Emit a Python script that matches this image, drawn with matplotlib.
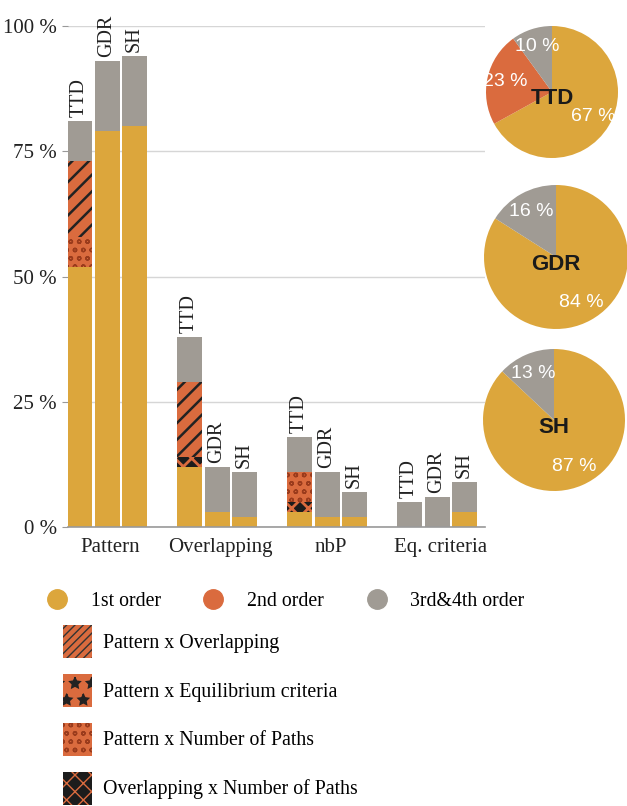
import numpy as np
import matplotlib
matplotlib.use("Agg")
import matplotlib.pyplot as plt
from matplotlib.patches import Patch
from matplotlib.lines import Line2D

plt.rcParams["font.family"] = ["Liberation Serif", "DejaVu Serif"]

# factor groups on the x axis and the three sensitivity methods
groups = ["Pattern", "Overlapping", "nbP", "Eq. criteria"]
methods = ["TTD", "GDR", "SH"]

# first-order share per factor (%)
first_order = {
    "TTD": [52, 12, 3, 0],
    "GDR": [79, 3, 2, 0],
    "SH": [80, 2, 2, 3],
}
# second-order interactions (only TTD resolves them), stacked in this order
ov_x_nbp = [0, 2, 2, 0]
pat_x_nbp = [6, 0, 6, 0]
pat_x_ov = [15, 15, 0, 0]
# third & fourth order share per factor (%)
higher_order = {
    "TTD": [8, 9, 7, 5],
    "GDR": [14, 9, 9, 6],
    "SH": [14, 9, 5, 6],
}

# overall split per method: 1st, 2nd, 3rd&4th order (%)
pie_shares = {
    "TTD": [67, 23, 10],
    "GDR": [84, 0, 16],
    "SH": [87, 0, 13],
}

YEL = "#DCA63C"
ORA = "#DA6B3E"
GRY = "#A09B94"
SANS = ["Liberation Sans", "DejaVu Sans"]

fig = plt.figure(figsize=(6.27, 8.06), dpi=100)
ax = fig.add_axes([0.1085, 0.346, 0.665, 0.6216])

offsets = [-0.25, 0.0, 0.25]
width = 0.227
xg = np.arange(len(groups))

for i, m in enumerate(methods):
    x = xg + offsets[i]
    bottom = np.zeros(len(groups))
    ax.bar(x, first_order[m], width, bottom=bottom, color=YEL, linewidth=0)
    bottom += first_order[m]
    if m == "TTD":
        with plt.rc_context({"hatch.linewidth": 2.0}):
            ax.bar(x, ov_x_nbp, width, bottom=bottom, color="#1c1c1c",
                   edgecolor=ORA, hatch="xx", linewidth=0)
        bottom += ov_x_nbp
        with plt.rc_context({"hatch.linewidth": 1.0}):
            ax.bar(x, pat_x_nbp, width, bottom=bottom, color=ORA,
                   edgecolor="#9a3b1c", hatch="oo", linewidth=0)
        bottom += pat_x_nbp
        with plt.rc_context({"hatch.linewidth": 1.8}):
            ax.bar(x, pat_x_ov, width, bottom=bottom, color=ORA,
                   edgecolor="#222222", hatch="//", linewidth=0)
        bottom += pat_x_ov
    ax.bar(x, higher_order[m], width, bottom=bottom, color=GRY, linewidth=0)
    bottom += higher_order[m]
    for xi, top in zip(x, bottom):
        ax.annotate(m, (xi, top), xytext=(0, 3), textcoords="offset points",
                    rotation=90, ha="center", va="bottom", fontsize=14.5,
                    color="#222222", annotation_clip=False)

ax.set_xlim(-0.355, 3.436)
ax.set_ylim(0, 100)
ax.set_yticks([0, 25, 50, 75, 100])
ax.set_yticklabels(["0 %", "25 %", "50 %", "75 %", "100 %"], fontsize=15, color="#222222")
ax.set_xticks(xg + 0.03)
ax.set_xticklabels(groups, fontsize=15, color="#222222")
ax.tick_params(axis="x", length=0, pad=8)
ax.tick_params(axis="y", length=4, color="#999999", pad=4)
ax.yaxis.grid(True, color="#d6d6d6", linewidth=1)
ax.set_axisbelow(True)
for s in ["top", "right", "left"]:
    ax.spines[s].set_visible(False)
ax.spines["bottom"].set_color("#999999")
ax.spines["bottom"].set_linewidth(1.2)

# pies with the overall split per method
pie_boxes = {
    "TTD": (552, 92, 66),
    "GDR": (556, 257, 72),
    "SH": (554, 420, 71),
}
W, H = 627, 806
for m in methods:
    cx, cy, r = pie_boxes[m]
    pax = fig.add_axes([(cx - r) / W, (H - cy - r) / H, 2 * r / W, 2 * r / H])
    pax.pie(
        pie_shares[m], colors=[YEL, ORA, GRY], startangle=90,
        counterclock=False, pctdistance=0.72,
        autopct=lambda p: f"{p:.0f} %" if p > 0.5 else "",
        textprops=dict(color="white", fontsize=14, family=SANS),
    )
    pax.text(0, -0.1, m, ha="center", va="center", fontsize=16, fontweight="bold",
             color="#1a1a1a", family=SANS)
    pax.set_xlim(-1, 1)
    pax.set_ylim(-1, 1)
    pax.set_aspect("equal")

# legend
order_handles = [
    Line2D([], [], marker="o", linestyle="none", markersize=14, color=c)
    for c in (YEL, ORA, GRY)
]
fig.legend(order_handles, ["1st order", "2nd order", "3rd&4th order"],
           loc="center left", bbox_to_anchor=(0.062, 0.2543), ncol=3, frameon=False,
           fontsize=14.3, handlelength=1.0, handletextpad=1.2, columnspacing=2.15,
           borderaxespad=0)

inter_handles = []
for hatch, ec, lw in [("////", "#333333", 1.0), ("*", "#222222", 1.0),
                      ("oo", "#9a3b1c", 1.0), ("xx", ORA, 2.0)]:
    fc = "#1c1c1c" if ec == ORA else ORA
    with plt.rc_context({"hatch.linewidth": lw}):
        inter_handles.append(Patch(facecolor=fc, edgecolor=ec, hatch=hatch, linewidth=0))
fig.legend(inter_handles,
           ["Pattern x Overlapping", "Pattern x Equilibrium criteria",
            "Pattern x Number of Paths", "Overlapping x Number of Paths"],
           loc="upper left", bbox_to_anchor=(0.0873, 0.2345), frameon=False,
           fontsize=14.3, handlelength=1.46, handleheight=2.18, labelspacing=0.80,
           handletextpad=0.55, borderaxespad=0)

fig.savefig("out.png", dpi=100)
